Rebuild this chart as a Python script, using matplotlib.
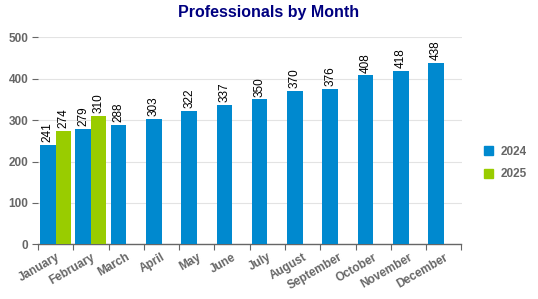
import numpy as np
import matplotlib.pyplot as plt
from matplotlib.patches import Patch

months = ['January', 'February', 'March', 'April', 'May', 'June', 'July',
          'August', 'September', 'October', 'November', 'December']
values_2024 = [241, 279, 288, 303, 322, 337, 350, 370, 376, 408, 418, 438]
values_2025 = [274, 310]
yticks = [0, 100, 200, 300, 400, 500]

blue = '#0089cf'
green = '#99cc00'
gray = '#666666'

plt.rcParams['font.family'] = ['Liberation Sans', 'DejaVu Sans']

fig = plt.figure(figsize=(5.38, 2.99), dpi=100)
ax = fig.add_axes([38 / 538, 1 - 244.3 / 299, (461.5 - 38) / 538, (244.3 - 37.3) / 299])

x = np.arange(len(months))
w = 0.44
b1 = ax.bar(x - w / 2, values_2024, width=w, color=blue, zorder=3)
b2 = ax.bar(x[:len(values_2025)] + w / 2, values_2025, width=w, color=green, zorder=3)

for bars in (b1, b2):
    for rect in bars:
        h = rect.get_height()
        ax.annotate(f"{h:.0f}", (rect.get_x() + rect.get_width() / 2, h),
                    xytext=(0, 2), textcoords='offset points',
                    rotation=90, ha='center', va='bottom', fontsize=8.5, color='black')

ax.set_xlim(-0.5, len(months) - 0.5)
ax.set_ylim(0, 500)

# y axis
ax.set_yticks(yticks)
ax.set_yticklabels([str(v) for v in yticks], fontsize=8.5, fontweight='bold', color=gray)
ax.tick_params(axis='y', length=4, width=0.8, color=gray, pad=3)
ax.grid(axis='y', color='#e3e3e3', linewidth=0.8, zorder=0)

# x axis: labels at centers, tick marks at boundaries
ax.set_xticks(x)
ax.set_xticklabels(months, rotation=30, ha='right', va='top', rotation_mode='anchor',
                   fontsize=8.5, fontweight='bold', color=gray)
ax.tick_params(axis='x', which='major', length=0, pad=5)
ax.set_xticks(np.arange(-0.5, len(months) + 0.5, 1), minor=True)
ax.tick_params(axis='x', which='minor', length=4, width=0.8, color=gray, direction='out')

for s in ['top', 'right', 'left']:
    ax.spines[s].set_visible(False)
ax.spines['bottom'].set_color(gray)
ax.spines['bottom'].set_linewidth(1)

fig.text(0.5, 1 - 13 / 299, 'Professionals by Month', ha='center', va='center',
         fontsize=11.5, fontweight='bold', color='#000080')

handles = [Patch(color=blue), Patch(color=green)]
leg = fig.legend(handles, ['2024', '2025'], loc='center left',
                 bbox_to_anchor=(473 / 538, 1 - 163 / 299), frameon=False,
                 handlelength=0.8, handleheight=0.8, handletextpad=0.6, labelspacing=0.9,
                 prop={'size': 8.5, 'weight': 'bold'})
for t in leg.get_texts():
    t.set_color(gray)

fig.savefig('out.png', dpi=100, facecolor='white')
